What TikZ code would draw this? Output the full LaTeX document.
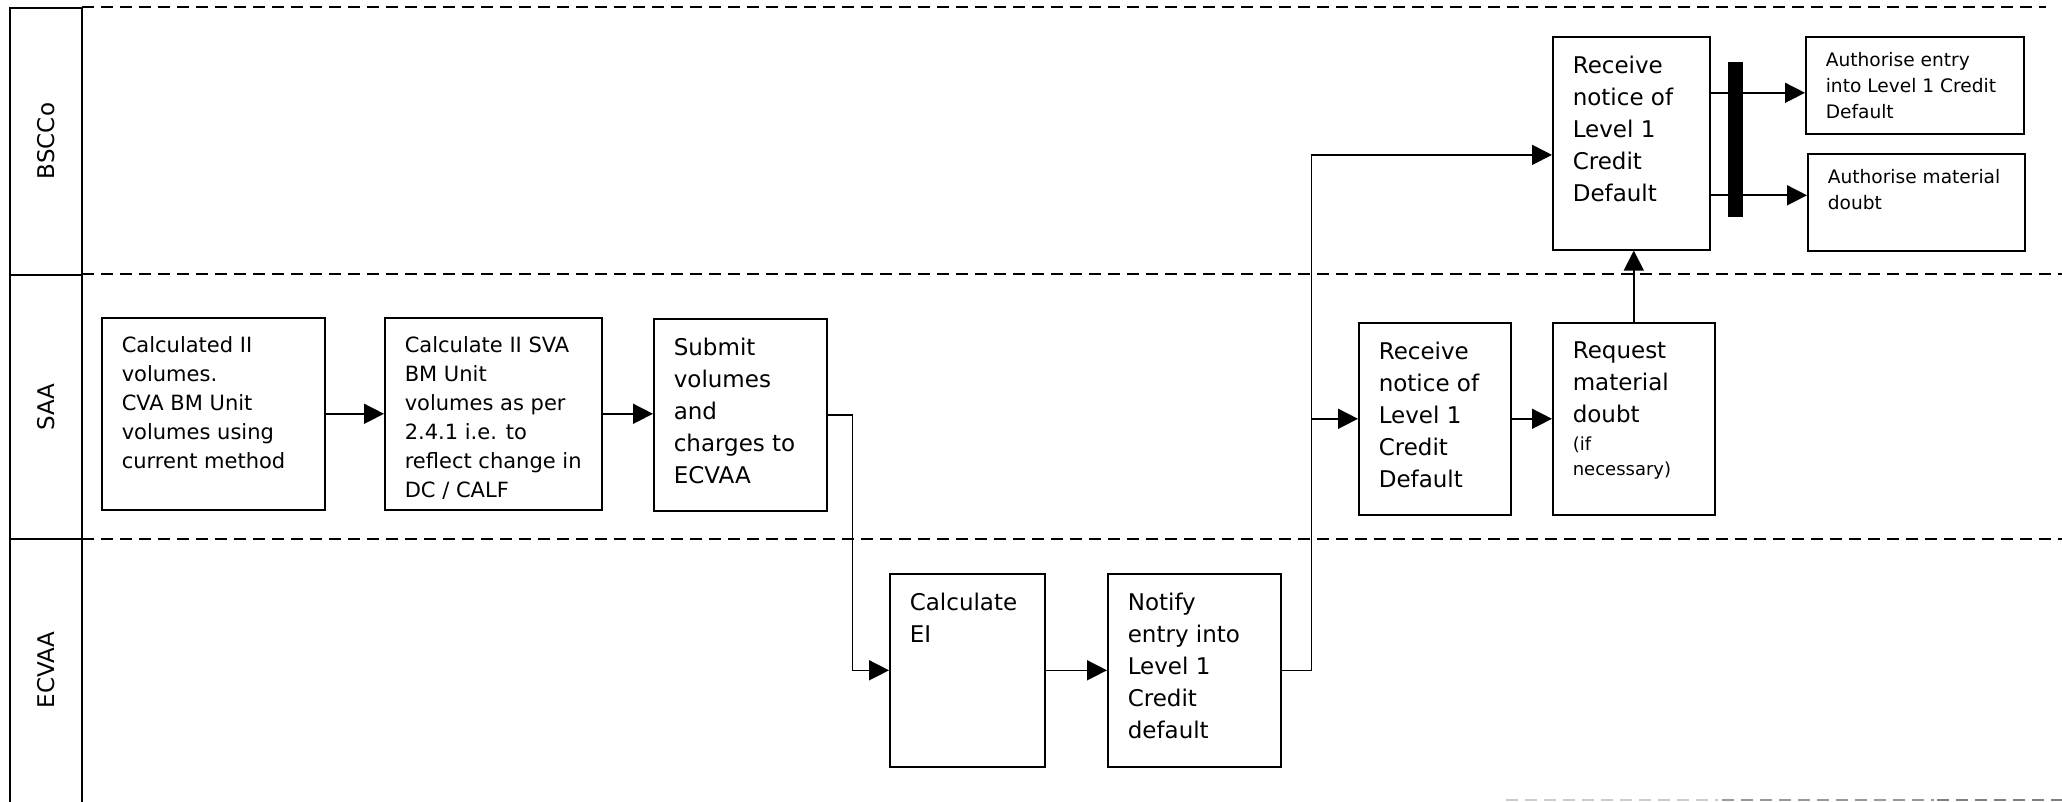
\documentclass[tikz,border=0pt]{standalone}
\usepackage{fontspec}
\setmainfont{DejaVu Sans}
\usetikzlibrary{arrows.meta}

\begin{document}
\begin{tikzpicture}[x=0.5pt, y=-0.5pt,
  procbox/.style={draw, line width=0.8pt, inner xsep=0pt, inner ysep=9.5pt, anchor=north west},
  bigtxt/.style={font=\fontsize{11.5}{16}\selectfont},
  midtxt/.style={font=\fontsize{10.5}{14.5}\selectfont},
  smalltxt/.style={font=\fontsize{9.3}{13}\selectfont, inner ysep=8pt},
  flow/.style={line width=0.8pt, -{Triangle[length=10pt, width=10pt]}},
  lane/.style={line width=0.8pt, dash pattern=on 6pt off 3.5pt},
  lanename/.style={rotate=90, font=\fontsize{11.5}{14}\selectfont}]

\useasboundingbox (0,0) rectangle (2062,802);

% swimlanes
\draw[line width=0.9pt] (10,802) -- (10,8) -- (82,8) -- (82,802);
\draw[line width=0.9pt] (10,275) -- (82,275);
\draw[line width=0.9pt] (10,539) -- (82,539);
\draw[lane] (82,7) -- (2046,7);
\draw[lane] (82,274) -- (2062,274);
\draw[lane] (82,539) -- (2062,539);
\draw[lane, black!20] (1506,800) -- (1718,800);
\draw[lane, black!40] (1722,800) -- (1934,800);
\draw[lane, black!50] (1937,800) -- (2062,800);

\node[lanename] (bscco) at (46,141) {BSCCo};
\node[lanename] (saa) at (46,407) {SAA};
\node[lanename] (ecvaa) at (46,670) {ECVAA};

% SAA
\node[procbox, midtxt] (calcvol) at (101,317) {
\begin{minipage}[t][77pt][t]{111.5pt}
\leftskip=10pt
Calculated II\\
volumes.\\
CVA BM Unit\\
volumes using\\
current method
\end{minipage}
};

\node[procbox, midtxt] (calcsva) at (384,317) {
\begin{minipage}[t][77pt][t]{108.5pt}
\leftskip=10pt
Calculate II SVA\\
BM Unit\\
volumes as per\\
2.4.1 i.e. to\\
reflect change in\\
DC / CALF
\end{minipage}
};

\node[procbox, bigtxt] (submit) at (653,318) {
\begin{minipage}[t][77pt][t]{86.5pt}
\leftskip=10pt
Submit\\
volumes\\
and\\
charges to\\
ECVAA
\end{minipage}
};

% ECVAA
\node[procbox, bigtxt] (calcei) at (889,573) {
\begin{minipage}[t][77.5pt][t]{77.5pt}
\leftskip=10pt
Calculate\\
EI
\end{minipage}
};

\node[procbox, bigtxt] (notify) at (1107,573) {
\begin{minipage}[t][77.5pt][t]{86.5pt}
\leftskip=10pt
Notify\\
entry into\\
Level 1\\
Credit\\
default
\end{minipage}
};

% SAA again
\node[procbox, bigtxt] (recvs) at (1358,322) {
\begin{minipage}[t][77pt][t]{76pt}
\leftskip=10pt
Receive\\
notice of\\
Level 1\\
Credit\\
Default
\end{minipage}
};

\node[procbox, bigtxt] (request) at (1552,322) {
\begin{minipage}[t][77pt][t]{81pt}
\leftskip=10pt
Request\\
material\\
doubt\par
\vspace{1.5pt}
{\fontsize{9}{12.5}\selectfont (if\\
necessary)\par}
\end{minipage}
};

% BSCCo
\node[procbox, bigtxt] (recvb) at (1552,36) {
\begin{minipage}[t][87.5pt][t]{78.5pt}
\leftskip=10pt
Receive\\
notice of\\
Level 1\\
Credit\\
Default
\end{minipage}
};

\node[procbox, smalltxt] (authent) at (1805,36) {
\begin{minipage}[t][32.5pt][t]{109pt}
\leftskip=10pt
Authorise entry\\
into Level 1 Credit\\
Default
\end{minipage}
};

\node[procbox, smalltxt] (authdbt) at (1807,153) {
\begin{minipage}[t][32.5pt][t]{108.5pt}
\leftskip=10pt
Authorise material\\
doubt
\end{minipage}
};

% connectors
\draw[flow] (calcvol) -- (calcsva);
\draw[flow] (calcsva.east) -- (calcsva.east -| submit.west);
\draw[flow] (submit.east) -- ++(25,0) |- (calcei.west);
\draw[flow] (calcei) -- (notify);
\draw[line width=0.8pt] (notify.east) -- ++(30,0) coordinate (split);
\coordinate (inb) at ([yshift=-5.8pt]recvb.west);
\draw[flow] (split) |- (inb);
\draw[flow] (split) |- (recvs.west);
\draw[flow] (recvs) -- (request);
\draw[flow] (request.north) -- (request.north |- recvb.south);

% fork
\coordinate (fa) at ([yshift=-3.75pt]authent.west);
\coordinate (fb) at ([yshift=3.5pt]authdbt.west);
\draw[flow] (recvb.east |- fa) -- (fa);
\draw[flow] (recvb.east |- fb) -- (fb);
\node[fill, inner sep=0pt, minimum width=7.5pt, minimum height=77.5pt, anchor=north west] (bar) at (1728,62) {};

\end{tikzpicture}
\end{document}
